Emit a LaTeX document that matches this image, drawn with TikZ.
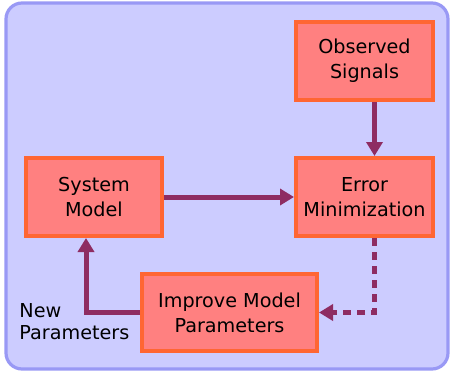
\documentclass[tikz,border=0pt]{standalone}
\usepackage{fontspec}
\setmainfont{DejaVu Sans}
\usetikzlibrary{arrows.meta}
\definecolor{panel}{HTML}{CCCCFF}
\definecolor{panelline}{HTML}{9999F5}
\definecolor{boxfill}{HTML}{FF8080}
\definecolor{boxline}{HTML}{FF6633}
\definecolor{flow}{HTML}{8E2C62}
\begin{document}
\begin{tikzpicture}[x=0.5pt,y=-0.5pt,
  block/.style={draw=boxline,fill=boxfill,line width=2pt,align=center,
    inner sep=0pt,font=\fontsize{9.6}{12.5}\selectfont},
  conn/.style={draw=flow,line width=2.5pt,-{Triangle[width=8pt,length=7pt]}}]
 \useasboundingbox (0,0) rectangle (450,375);
 \draw [panelline,fill=panel,line width=1.6pt,rounded corners=8pt](6,3) rectangle (448,369);

 \node [block,minimum width=68.5pt,minimum height=39pt] (obs) at (364.5,61) {Observed\\Signals};
 \node [block,minimum width=68.5pt,minimum height=39pt] (err) at (364.5,197) {Error\\Minimization};
 \node [block,minimum width=68pt,minimum height=39pt] (sys) at (94,197) {System\\Model};
 \node [block,minimum width=87.5pt,minimum height=38.5pt] (imp) at (229.5,312.5) {Improve Model\\Parameters};
 \node [align=left,anchor=west,inner sep=0pt,font=\fontsize{9.6}{11}\selectfont] (newp) at (19,322) {New\\Parameters};

 \draw [conn] ([xshift=5pt]obs.south) -- ([xshift=5pt]err.north);
 \draw [conn] (sys.east) -- (err.west);
 \draw [conn,dash pattern=on 4pt off 3pt] ([xshift=5pt]err.south) |- (imp.east);
 \draw [conn] (imp.west) -| ([xshift=-4pt]sys.south);
 \end{tikzpicture}
\end{document}
